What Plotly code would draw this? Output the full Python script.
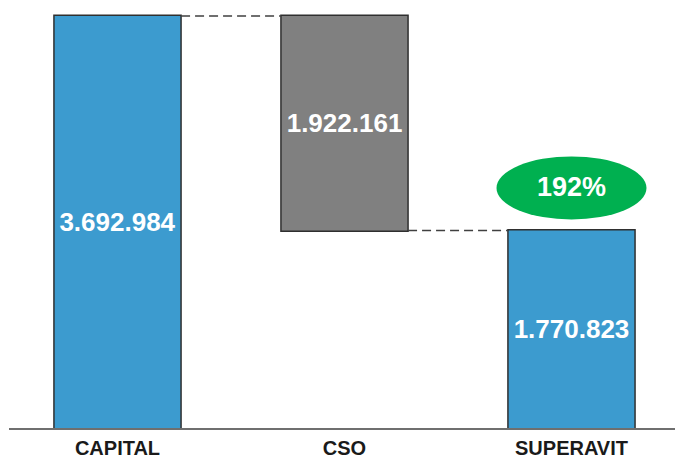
import plotly.graph_objects as go

categories = ["CAPITAL", "CSO", "SUPERAVIT"]
measures = ["absolute", "relative", "total"]
values = [3692984, -1922161, 0]

capital = values[0]
cso = -values[1]
superavit = capital - cso
ratio_pct = round(capital / cso * 100)

def fmt(v):
    return f"{abs(v):,}".replace(",", ".")

labels = [fmt(capital), fmt(cso), fmt(superavit)]

BLUE = "#3C9BCF"
GRAY = "#808080"
EDGE = "#2F2F2F"

fig = go.Figure(go.Waterfall(
    x=categories,
    measure=measures,
    y=values,
    text=labels,
    textposition="inside",
    insidetextanchor="middle",
    insidetextfont=dict(family="Liberation Sans", size=26, color="white", weight="bold"),
    width=0.56,
    totals=dict(marker=dict(color=BLUE, line=dict(color=EDGE, width=1.5))),
    decreasing=dict(marker=dict(color=GRAY, line=dict(color=EDGE, width=1.5))),
    increasing=dict(marker=dict(color=BLUE, line=dict(color=EDGE, width=1.5))),
    connector=dict(mode="between", line=dict(color="#404040", width=1.5, dash="9px,5px")),
    hoverinfo="skip",
))

fig.add_shape(
    type="circle",
    xref="x", yref="y",
    xsizemode="pixel", ysizemode="pixel",
    xanchor=2, yanchor=superavit,
    x0=-75, x1=75, y0=11, y1=74,
    fillcolor="#00B050", line=dict(width=0),
)
fig.add_annotation(
    x=2, y=superavit, xref="x", yref="y",
    text=f"{ratio_pct}%", showarrow=False,
    yshift=43,
    font=dict(family="Liberation Sans", size=27, color="white", weight="bold"),
)

fig.update_layout(
    width=675, height=458,
    margin=dict(l=9, r=0, t=0, b=30),
    paper_bgcolor="white", plot_bgcolor="white",
    showlegend=False,
    xaxis=dict(
        type="category",
        range=[-0.478, 2.456],
        automargin=False,
        showline=True, linecolor="#6F6F6F", linewidth=1.5,
        showgrid=False, ticks="",
        ticklabelstandoff=1,
        tickfont=dict(family="Liberation Sans", size=20, color="#1A1A1A", weight="bold"),
    ),
    yaxis=dict(
        range=[0, capital * 428 / 412],
        visible=False, showgrid=False, zeroline=False,
    ),
)

fig.write_html("out.html", config={"displayModeBar": False},
               post_script="document.body.style.margin='0px';")
